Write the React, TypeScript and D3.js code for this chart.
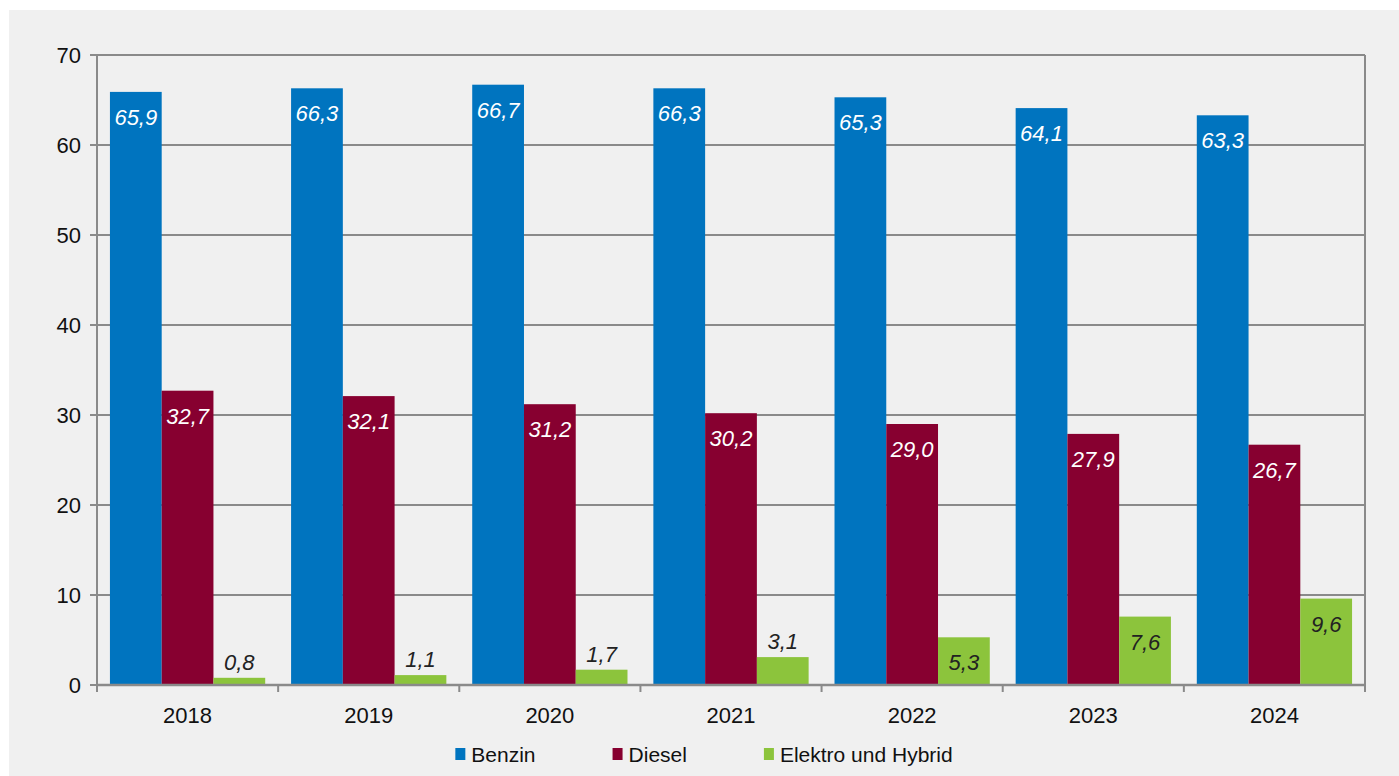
import { useMemo } from "react";
import * as d3 from "d3";

const years = ["2018", "2019", "2020", "2021", "2022", "2023", "2024"];
const seriesNames = ["Benzin", "Diesel", "Elektro und Hybrid"];
const benzin = [65.9, 66.3, 66.7, 66.3, 65.3, 64.1, 63.3];
const diesel = [32.7, 32.1, 31.2, 30.2, 29.0, 27.9, 26.7];
const elektro = [0.8, 1.1, 1.7, 3.1, 5.3, 7.6, 9.6];
const yTicks = [0, 10, 20, 30, 40, 50, 60, 70];

const colors = ["#0074bf", "#870030", "#8cc43c"];
const labelColors = ["#ffffff", "#ffffff", "#222222"];

const W = 1399;
const H = 776;
const FONT = "'Liberation Sans', Arial, sans-serif";
const margin = { left: 97, right: 34, top: 55, bottom: 91 };
const AXIS = "#8a8a8a";

const fmt = (v: number) => v.toFixed(1).replace(".", ",");

const measure = (text: string, size: number) => {
  const ctx = document.createElement("canvas").getContext("2d");
  if (!ctx) return text.length * size * 0.5;
  ctx.font = `${size}px ${FONT}`;
  return ctx.measureText(text).width;
};

const App = () => {
  const values = [benzin, diesel, elektro];
  const x = d3
    .scaleBand()
    .domain(years)
    .range([margin.left, W - margin.right])
    .paddingInner(0)
    .paddingOuter(0);
  const xInner = d3
    .scaleBand()
    .domain(seriesNames)
    .range([0, x.bandwidth()])
    .paddingInner(0)
    .paddingOuter(0.25);
  const y = d3
    .scaleLinear()
    .domain([0, 70])
    .range([H - margin.bottom, margin.top]);

  // legend is centred on the grey panel, not on the plot
  const legend = useMemo(() => {
    const sq = 10;
    const gap = 6;
    const spacing = 77;
    const widths = seriesNames.map((s) => measure(s, 21));
    const total =
      widths.reduce((a, w) => a + sq + gap + w, 0) + spacing * (seriesNames.length - 1);
    let cx = (9 + W) / 2 - total / 2;
    return seriesNames.map((s, i) => {
      const item = { name: s, x: cx, color: colors[i] };
      cx += sq + gap + widths[i] + spacing;
      return item;
    });
  }, []);

  const x0 = margin.left;
  const x1 = W - margin.right;
  const y0 = y(0);

  return (
    <svg
      width={W}
      height={H}
      style={{ position: "fixed", left: 0, top: 0, fontFamily: FONT }}
    >
      <rect x={0} y={0} width={W} height={H} fill="#ffffff" />
      <rect x={9} y={10} width={W - 9} height={H - 10} fill="#f0f0f0" />

      {/* grid */}
      <g>
        {yTicks.map((t) => (
          <g key={t}>
            <line x1={x0 - 7} x2={x1} y1={y(t)} y2={y(t)} stroke={AXIS} strokeWidth={2} />
            <text
              x={x0 - 16}
              y={y(t)}
              dy="0.36em"
              textAnchor="end"
              fontSize={22}
              fill="#111"
            >
              {t}
            </text>
          </g>
        ))}
        <line x1={x0} x2={x0} y1={y(70)} y2={y0} stroke={AXIS} strokeWidth={2} />
        <line x1={x1} x2={x1} y1={y(70)} y2={y0 + 7} stroke={AXIS} strokeWidth={2} />
      </g>

      {/* bars */}
      {values.map((vals, si) => (
        <g key={seriesNames[si]}>
          {vals.map((v, i) => {
            const bx = (x(years[i]) ?? 0) + (xInner(seriesNames[si]) ?? 0);
            const bw = xInner.bandwidth();
            const top = y(v);
            const h = y0 - top;
            const inside = h >= 36;
            return (
              <g key={years[i]}>
                <rect x={bx} y={top} width={bw} height={h} fill={colors[si]} />
                <text
                  x={bx + bw / 2}
                  y={inside ? top + 33 : top - 8}
                  textAnchor="middle"
                  fontSize={22}
                  fontStyle="italic"
                  fill={inside ? labelColors[si] : "#222222"}
                >
                  {fmt(v)}
                </text>
              </g>
            );
          })}
        </g>
      ))}

      {/* x axis */}
      <line x1={x0 - 1} x2={x1 + 1} y1={y0} y2={y0} stroke={AXIS} strokeWidth={2.5} />
      {years.map((yr) => (
        <g key={yr}>
          <line
            x1={x(yr) ?? 0}
            x2={x(yr) ?? 0}
            y1={y0}
            y2={y0 + 7}
            stroke={AXIS}
            strokeWidth={2}
          />
          <text
            x={(x(yr) ?? 0) + x.bandwidth() / 2}
            y={y0 + 38}
            textAnchor="middle"
            fontSize={22}
            fill="#111"
          >
            {yr}
          </text>
        </g>
      ))}

      {/* legend */}
      {legend.map((l) => (
        <g key={l.name}>
          <rect x={l.x} y={748} width={10} height={12} fill={l.color} />
          <text x={l.x + 16} y={762} fontSize={21} fill="#111">
            {l.name}
          </text>
        </g>
      ))}
    </svg>
  );
};

export default App;
